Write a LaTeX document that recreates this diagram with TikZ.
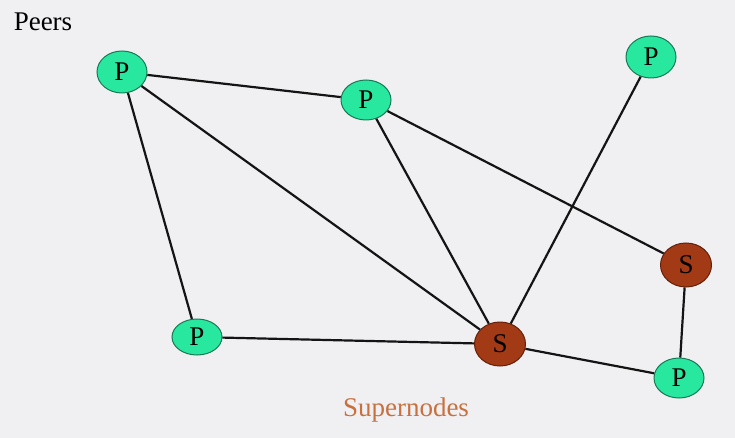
\documentclass[tikz,border=0pt]{standalone}
\usepackage{fontspec}
\setmainfont{Liberation Serif}
\usetikzlibrary{shapes.geometric}
\definecolor{bg}{RGB}{240,240,243}
\definecolor{peerfill}{RGB}{40,232,160}
\definecolor{peerline}{RGB}{25,120,85}
\definecolor{superfill}{RGB}{163,58,22}
\definecolor{superline}{RGB}{100,32,10}
\definecolor{supertext}{RGB}{200,112,62}
\begin{document}
\begin{tikzpicture}[x=1pt,y=-1pt,
  peer/.style={ellipse,draw=peerline,line width=1pt,fill=peerfill,minimum width=50pt,minimum height=42pt,inner sep=0pt,font=\fontsize{27}{27}\selectfont},
  super/.style={ellipse,draw=superline,line width=1pt,fill=superfill,minimum width=51pt,minimum height=44pt,inner sep=0pt,font=\fontsize{27}{27}\selectfont},
  link/.style={line width=2.2pt,black!92}]
\fill[bg] (0,0) rectangle (735,438);
\useasboundingbox (0,0) rectangle (735,438);
\node[anchor=center,font=\fontsize{27}{27}\selectfont] (peers) at (43,22) {Peers};
\node[anchor=center,text=supertext,font=\fontsize{27}{27}\selectfont] (supernodes) at (406,410) {Supernodes};
\node[peer] (p1) at (122,72) {P};
\node[peer,minimum height=40pt] (p2) at (366,100) {P};
\node[peer] (p3) at (651,57) {P};
\node[peer,minimum height=36pt] (p4) at (197,337) {P};
\node[peer,minimum height=40pt] (p5) at (679,378) {P};
\node[super] (s1) at (500,344) {S};
\node[super] (s2) at (686,265) {S};
\draw[link] (p1) -- (p2);
\draw[link] (p1) -- (p4);
\draw[link] (p1) -- (s1);
\draw[link] (p2) -- (s1);
\draw[link] (p2) -- (s2);
\draw[link] (p3) -- (s1);
\draw[link] (p4) -- (s1);
\draw[link] (s1) -- (p5);
\draw[link] (s2) -- (p5);
\end{tikzpicture}
\end{document}
